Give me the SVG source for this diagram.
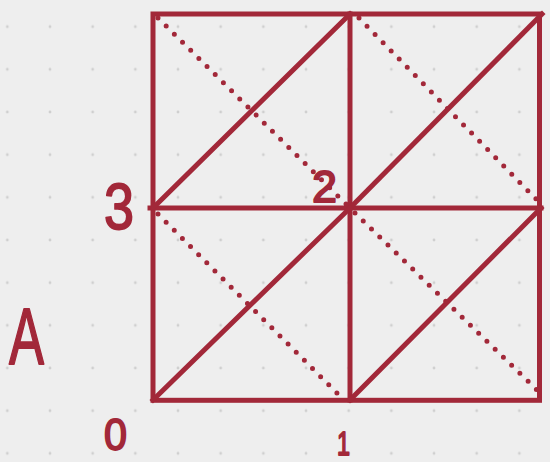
<svg xmlns="http://www.w3.org/2000/svg" width="550" height="462" viewBox="0 0 550 462">
<defs>
<pattern id="dots" x="7.33" y="26.67" width="42.67" height="42.67" patternUnits="userSpaceOnUse">
<circle cx="0" cy="0" r="1.4" fill="#cfcfcf"/>
<circle cx="42.67" cy="0" r="1.4" fill="#cfcfcf"/>
<circle cx="0" cy="42.67" r="1.4" fill="#cfcfcf"/>
<circle cx="42.67" cy="42.67" r="1.4" fill="#cfcfcf"/>
</pattern>
<style>
.ln{stroke:#a22839;stroke-width:5;fill:none;stroke-linecap:square}
.dt{stroke:#a22839;stroke-width:5;fill:none;stroke-linecap:round;stroke-dasharray:0 11.5}
.lb{fill:#a22839;stroke:#a22839;stroke-width:1.8;stroke-linejoin:round;font-family:"Liberation Sans",Arial,sans-serif}
</style>
</defs>
<rect width="550" height="462" fill="#eeeeee"/>
<rect width="550" height="462" fill="url(#dots)"/>
<g id="connectors">
<rect class="ln" x="153" y="14" width="386.5" height="386.3"/>
<line class="ln" x1="350" y1="14" x2="350" y2="400"/>
<line class="ln" x1="150" y1="208" x2="541" y2="208"/>
<line class="ln" x1="153" y1="208" x2="350" y2="14"/>
<line class="ln" x1="350" y1="208" x2="542" y2="14"/>
<line class="ln" x1="153" y1="400" x2="350" y2="208"/>
<line class="ln" x1="350" y1="400" x2="541" y2="208"/>
<line class="dt" x1="158" y1="18" x2="350" y2="208"/>
<line class="dt" x1="359" y1="18" x2="537" y2="200"/>
<line class="dt" x1="158" y1="214" x2="340" y2="396"/>
<line class="dt" x1="355" y1="213" x2="537" y2="390"/>
</g>
<g id="label-3"><text class="lb" x="104" y="229" font-size="64" textLength="30" lengthAdjust="spacingAndGlyphs">3</text></g>
<g id="label-2"><text class="lb" x="312" y="202" font-size="44" textLength="25" lengthAdjust="spacingAndGlyphs">2</text></g>
<g id="label-A"><text class="lb" x="9" y="364" font-size="80" textLength="35" lengthAdjust="spacingAndGlyphs">A</text></g>
<g id="label-0"><text class="lb" x="104" y="450" font-size="44" textLength="23" lengthAdjust="spacingAndGlyphs">0</text></g>
<g id="label-1"><text class="lb" x="337" y="455" font-size="34" textLength="13" lengthAdjust="spacingAndGlyphs">1</text></g>
</svg>
